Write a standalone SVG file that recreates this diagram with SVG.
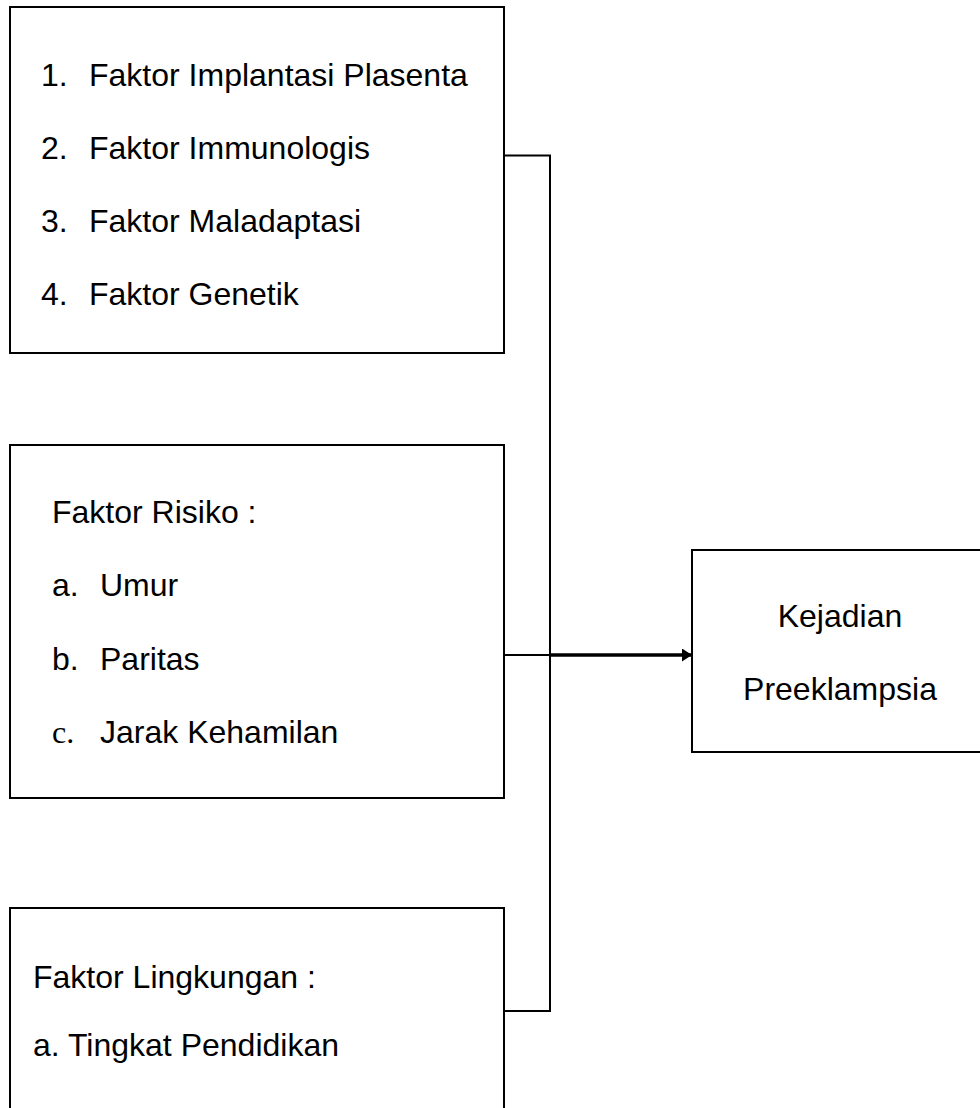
<svg xmlns="http://www.w3.org/2000/svg" width="980" height="1108" viewBox="0 0 980 1108">
<defs>
<style>
.box{fill:#fff;stroke:#000;stroke-width:2}
.t{font-family:"Liberation Sans",Arial,sans-serif;font-size:32px;fill:#000}
.ts{font-family:"Liberation Serif","Times New Roman",serif;font-size:32px;fill:#000}
.ln{fill:none;stroke:#000;stroke-width:2}
</style>
<marker id="ah" markerWidth="10" markerHeight="13" refX="10" refY="6.5" orient="auto" markerUnits="userSpaceOnUse">
<path d="M0,0 L10,6.5 L0,13 Z" fill="#000"/>
</marker>
</defs>
<rect width="980" height="1108" fill="#fff"/>
<g id="connectors">
<polyline class="ln" points="504,155.5 550,155.5 550,1011 504,1011"/>
<line class="ln" x1="504" y1="655" x2="550" y2="655" stroke-width="1.5"/>
<line x1="550" y1="655" x2="692" y2="655" stroke="#000" stroke-width="3.5" marker-end="url(#ah)"/>
</g>
<g id="node-faktor">
<rect class="box" x="10" y="7" width="494" height="346"/>
<text class="t" x="41" y="86">1.</text><text class="t" x="89" y="86">Faktor Implantasi Plasenta</text>
<text class="t" x="41" y="159">2.</text><text class="t" x="89" y="159">Faktor Immunologis</text>
<text class="t" x="41" y="232">3.</text><text class="t" x="89" y="232">Faktor Maladaptasi</text>
<text class="t" x="41" y="305">4.</text><text class="t" x="89" y="305">Faktor Genetik</text>
</g>
<g id="node-risiko">
<rect class="box" x="10" y="445" width="494" height="353"/>
<text class="t" x="52" y="523">Faktor Risiko :</text>
<text class="t" x="52" y="596">a.</text><text class="t" x="100" y="596">Umur</text>
<text class="t" x="52" y="670">b.</text><text class="t" x="100" y="670">Paritas</text>
<text class="ts" x="52" y="743">c.</text><text class="t" x="100" y="743">Jarak Kehamilan</text>
</g>
<g id="node-lingkungan">
<rect class="box" x="10" y="908" width="494" height="220"/>
<text class="t" x="33" y="988">Faktor Lingkungan :</text>
<text class="t" x="33" y="1056">a. Tingkat Pendidikan</text>
</g>
<g id="node-kejadian">
<rect class="box" x="692" y="550" width="300" height="202"/>
<text class="t" x="840" y="627" text-anchor="middle">Kejadian</text>
<text class="t" x="840" y="700" text-anchor="middle">Preeklampsia</text>
</g>
</svg>
